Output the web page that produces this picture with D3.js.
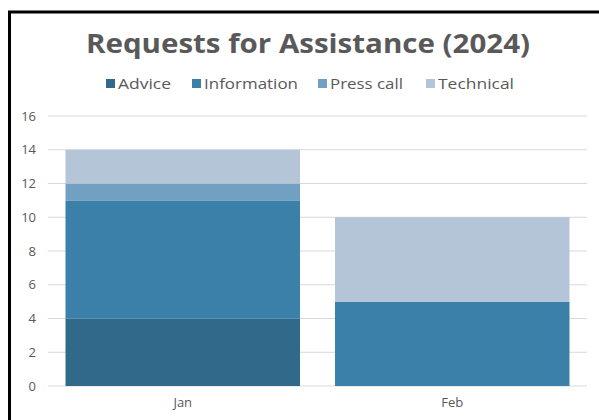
<!DOCTYPE html>
<html><head><meta charset="utf-8">
<script src="https://cdn.jsdelivr.net/npm/d3@7"></script>
<style>body{margin:0;background:#fff;}svg{display:block;}</style>
</head><body>
<svg id="c" width="599" height="420"></svg>
<script>
const months = ["Jan", "Feb"];
const seriesNames = ["Advice", "Information", "Press call", "Technical"];
const advice = [4, 0];
const information = [7, 5];
const pressCall = [1, 0];
const technical = [2, 5];
const yTicks = [0, 2, 4, 6, 8, 10, 12, 14, 16];
const colors = ["#31698a", "#3b80a9", "#72a0c3", "#b3c5d7"];

const svg = d3.select("#c");
const font = "'Open Sans', sans-serif";
const textColor = "#595959";

// frame
svg.append("rect").attr("x", 9.5).attr("y", 12).attr("width", 700).attr("height", 500)
  .attr("fill", "none").attr("stroke", "#000").attr("stroke-width", 3);

const x = d3.scaleBand().domain(months).range([48, 587]).paddingInner(0.13).paddingOuter(0.065);
const y = d3.scaleLinear().domain([0, 16]).range([386, 116]);

// grid
svg.append("g").selectAll("line").data(yTicks).join("line")
  .attr("x1", 48).attr("x2", 587)
  .attr("y1", d => y(d)).attr("y2", d => y(d))
  .attr("stroke", "#d9d9d9").attr("stroke-width", 1);

// stacked data
const table = months.map((m, i) => ({month: m, "Advice": advice[i], "Information": information[i], "Press call": pressCall[i], "Technical": technical[i]}));
const stack = d3.stack().keys(seriesNames)(table);

svg.append("g").selectAll("g").data(stack).join("g")
  .attr("fill", (d, i) => colors[i])
  .selectAll("rect").data(d => d).join("rect")
  .attr("x", d => x(d.data.month))
  .attr("width", x.bandwidth())
  .attr("y", d => y(d[1]))
  .attr("height", d => y(d[0]) - y(d[1]));

// y axis
const yAxis = svg.append("g").attr("transform", "translate(36,0)")
  .call(d3.axisLeft(y).tickValues(yTicks).tickSize(0).tickPadding(0));
yAxis.select(".domain").remove();
yAxis.selectAll("text").attr("fill", textColor).style("font-family", font).style("font-size", "13px");

// x axis
const xAxis = svg.append("g").attr("transform", "translate(0,386)")
  .call(d3.axisBottom(x).tickSize(0).tickPadding(12));
xAxis.select(".domain").remove();
xAxis.selectAll("text").attr("fill", textColor).style("font-family", font).style("font-size", "13px");

// title
svg.append("text").attr("x", 86).attr("y", 53)
  .attr("textLength", 444).attr("lengthAdjust", "spacingAndGlyphs")
  .attr("fill", textColor).style("font-family", font).style("font-weight", "bold").style("font-size", "27px")
  .text("Requests for Assistance (2024)");

// legend
const legendX = [106, 192, 318, 426];
const legendW = [53, 94, 73, 76];
const lg = svg.append("g").selectAll("g").data(seriesNames).join("g")
  .attr("transform", (d, i) => `translate(${legendX[i]},79)`);
lg.append("rect").attr("width", 9).attr("height", 9).attr("fill", (d, i) => colors[i]);
lg.append("text").attr("x", 12).attr("y", 10).attr("fill", textColor)
  .attr("textLength", (d, i) => legendW[i]).attr("lengthAdjust", "spacingAndGlyphs")
  .style("font-family", font).style("font-size", "15px").text(d => d);
</script>
</body></html>
